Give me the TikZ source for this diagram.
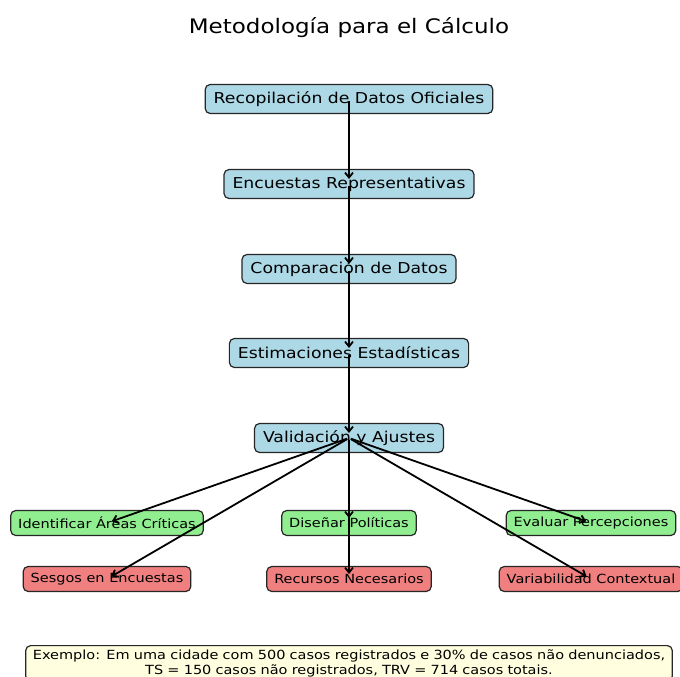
\documentclass[tikz,border=0pt]{standalone}
\usepackage{fontspec}
\setmainfont{DejaVu Sans}[FakeStretch=1.15]
\usetikzlibrary{arrows.meta}
\definecolor{lblue}{HTML}{ADD8E6}
\definecolor{lgreen}{HTML}{90EE90}
\definecolor{lcoral}{HTML}{F08080}
\definecolor{lyellow}{HTML}{FFFFE0}
\tikzset{
  mainbox/.style={draw=black!85, line width=1.2pt, rounded corners=5pt, fill=lblue, inner xsep=8.5pt, minimum height=29pt, font=\fontsize{15}{18}\selectfont},
  actbox/.style={draw=black!85, line width=1.2pt, rounded corners=5pt, fill=lgreen, inner xsep=7.5pt, minimum height=25pt, font=\fontsize{12.6}{15}\selectfont},
  riskbox/.style={actbox, fill=lcoral},
  notebox/.style={draw=black!85, line width=1.2pt, rounded corners=5pt, fill=lyellow, text width=640pt, align=center, inner ysep=4pt, font=\fontsize{12.6}{15}\selectfont},
  flecha/.style={line width=1.8pt, shorten <=2pt, shorten >=5pt, -{Straight Barb[length=5pt,width=8pt]}},
}
\begin{document}
\begin{tikzpicture}[x=1pt,y=-1pt]
  \useasboundingbox (0,0) rectangle (680,677);
  \node[font=\fontsize{20}{24}\selectfont] (titulo) at (349,28) {Metodología para el Cálculo};

  %% --- etapas principales ---
  \node[mainbox] (rec) at (349,99) {Recopilación de Datos Oficiales};
  \node[mainbox] (enc) at (349,184) {Encuestas Representativas};
  \node[mainbox] (comp) at (349,269) {Comparación de Datos};
  \node[mainbox] (est) at (349,353) {Estimaciones Estadísticas};
  \node[mainbox] (val) at (349,438) {Validación y Ajustes};

  %% --- aplicaciones (verde) ---
  \node[actbox] (areas) at (107,523) {Identificar Áreas Críticas};
  \node[actbox] (pol) at (349,523) {Diseñar Políticas};
  \node[actbox] (perc) at (591,523) {Evaluar Percepciones};

  %% --- limitaciones (rojo) ---
  \node[riskbox] (sesgo) at (107,579) {Sesgos en Encuestas};
  \node[riskbox] (recur) at (349,579) {Recursos Necesarios};
  \node[riskbox] (varc) at (591,579) {Variabilidad Contextual};

  % Flechas
  \foreach \a/\b in {rec/enc,enc/comp,comp/est,est/val}
    \draw[flecha] (\a.center) -- (\b.center);
  \foreach \b in {areas,pol,perc,sesgo,recur,varc}
    \draw[flecha] (val.center) -- (\b.center);

  % Ejemplo
  \node[notebox, anchor=north] (ejemplo) at (349,645) {Exemplo: Em uma cidade com 500 casos registrados e 30\% de casos não denunciados,\\
    TS = 150 casos não registrados, TRV = 714 casos totais.};
\end{tikzpicture}
\end{document}
